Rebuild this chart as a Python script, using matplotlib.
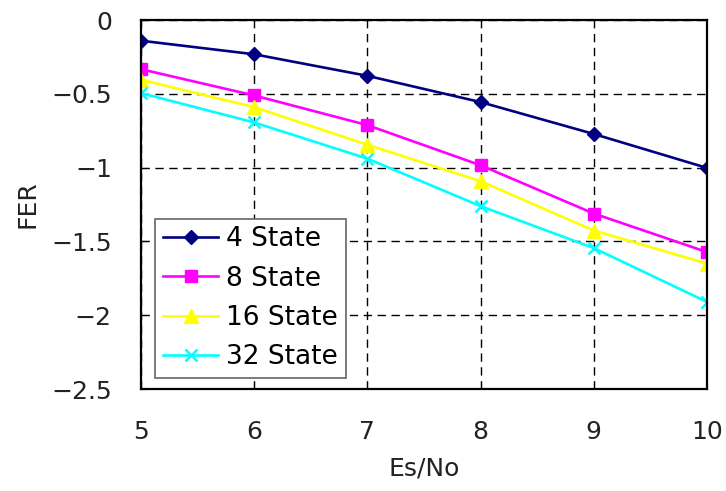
import matplotlib
matplotlib.use("Agg")
import matplotlib.pyplot as plt
from matplotlib.ticker import FuncFormatter

x = [5, 6, 7, 8, 9, 10]
s4 = [-0.14, -0.232, -0.378, -0.556, -0.772, -1.002]
s8 = [-0.333, -0.511, -0.712, -0.984, -1.311, -1.572]
s16 = [-0.405, -0.59, -0.845, -1.092, -1.426, -1.65]
s32 = [-0.495, -0.694, -0.939, -1.261, -1.545, -1.91]
labels = ["4 State", "8 State", "16 State", "32 State"]
yticks = [0, -0.5, -1, -1.5, -2, -2.5]

plt.rcParams['font.family'] = ['DejaVu Sans']
fig = plt.figure(figsize=(7.26, 4.91), dpi=100)
ax = fig.add_axes([0.1942, 0.2077, 0.7796, 0.7515])

ax.plot(x, s4, color='#000080', marker='D', markersize=7.5, lw=1.9, label=labels[0])
ax.plot(x, s8, color='#ff00ff', marker='s', markersize=8, lw=1.9, label=labels[1])
ax.plot(x, s16, color='#ffff00', marker='^', markersize=9.5, lw=1.9, label=labels[2])
ax.plot(x, s32, color='#00ffff', marker='x', markersize=9, mew=1.8, lw=1.9, label=labels[3])

ax.set_xlim(5, 10)
ax.set_ylim(-2.5, 0)
ax.set_xticks(x)
ax.set_yticks(yticks)
ax.yaxis.set_major_formatter(FuncFormatter(lambda v, p: ('%g' % v).replace('-', '\u2212')))
ax.grid(True, color='black', linestyle=(0, (6, 4)), lw=1)
ax.set_axisbelow(True)
ax.tick_params(direction='in', labelsize=18, length=5, labelcolor='#222222')
ax.tick_params(axis='x', pad=22)
ax.tick_params(axis='y', pad=21)
for sp in ax.spines.values():
    sp.set_linewidth(1.6)
ax.set_xlabel('Es/No', fontsize=18, labelpad=9, color='#222222')
ax.set_ylabel('FER', fontsize=18, labelpad=8, color='#222222')
leg = ax.legend(loc='lower left', fontsize=19, fancybox=False, framealpha=1,
                edgecolor='#666666', handlelength=2.1, borderpad=0.3,
                labelspacing=0.5, handletextpad=0.3, borderaxespad=0,
                bbox_to_anchor=(0.025, 0.03))
leg.get_frame().set_linewidth(1.2)
fig.savefig('out.png', dpi=100)
